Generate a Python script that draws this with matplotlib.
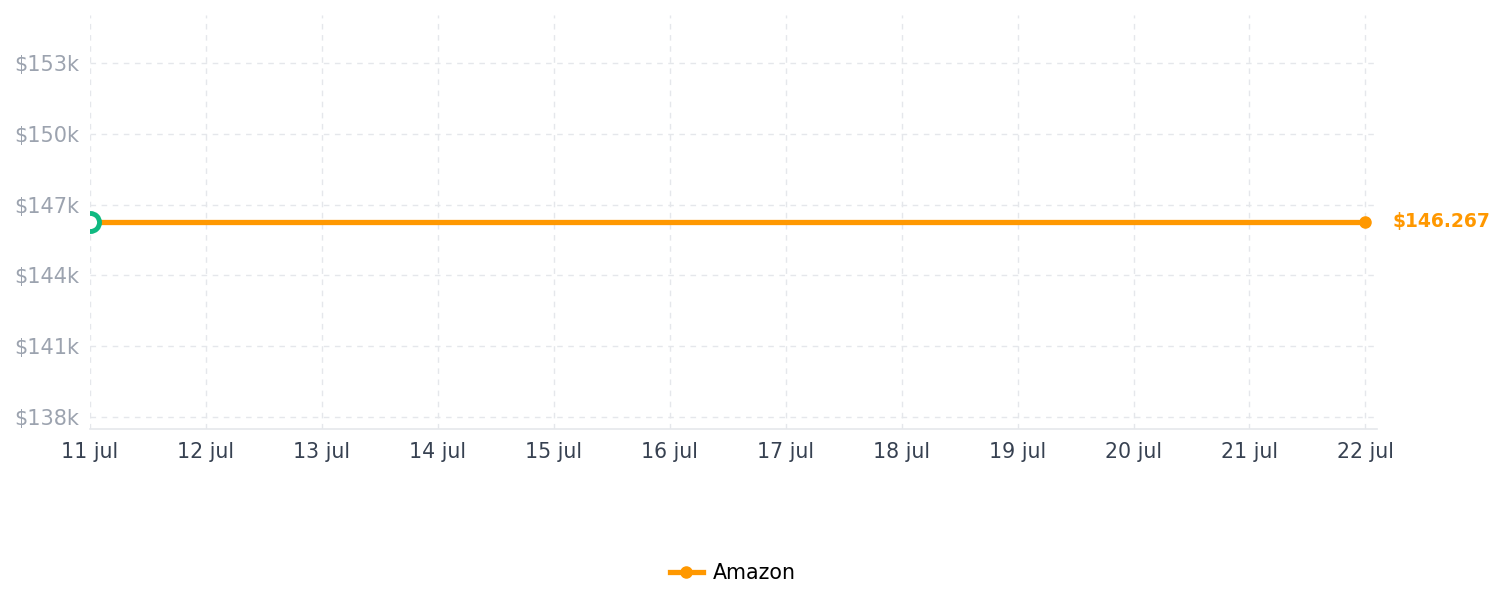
import matplotlib
matplotlib.use("Agg")
import matplotlib.pyplot as plt
from matplotlib.ticker import FixedLocator, FuncFormatter
from matplotlib.lines import Line2D

days = [11, 12, 13, 14, 15, 16, 17, 18, 19, 20, 21, 22]
day_labels = [f"{d} jul" for d in days]
amazon = [146267] * len(days)
y_ticks = [138000, 141000, 144000, 147000, 150000, 153000]
series_name = "Amazon"
last_label = "$146.267"

orange = "#ff9800"
green = "#10b981"

fig = plt.figure(figsize=(15.04, 6.07), dpi=100)
ax = fig.add_axes([90/1504, 1-429/607, (1377-90)/1504, (429-15)/607])

ax.plot(days, amazon, color=orange, lw=3.8, label=series_name,
        marker="o", markersize=8, markevery=[len(days)-1], zorder=3)
ax.plot([days[0]], [amazon[0]], marker="o", markersize=13, markerfacecolor="white",
        markeredgecolor=green, markeredgewidth=3.5, linestyle="none", zorder=4)

ax.annotate(last_label, xy=(days[-1], amazon[-1]), xytext=(19.5, 0), textcoords="offset points",
            color=orange, fontsize=13.5, fontweight="bold", va="center", ha="left",
            annotation_clip=False)

ax.set_xlim(11, 22.1)
ax.set_ylim(137490, 155030)
ax.xaxis.set_major_locator(FixedLocator(days))
ax.set_xticklabels(day_labels)
ax.yaxis.set_major_locator(FixedLocator(y_ticks))
ax.yaxis.set_major_formatter(FuncFormatter(lambda v, p: f"${v/1000:.0f}k"))

ax.grid(True, color="#e5e7eb", linestyle=(0, (4, 4)), linewidth=1)
ax.set_axisbelow(True)
for s in ["top", "right", "left"]:
    ax.spines[s].set_visible(False)
ax.spines["bottom"].set_color("#e5e7eb")
ax.spines["bottom"].set_linewidth(1.2)
ax.tick_params(axis="both", length=0)
ax.tick_params(axis="x", colors="#374151", labelsize=14.8, pad=9)
ax.tick_params(axis="y", colors="#9ca3af", labelsize=15, pad=8)

handle = Line2D([], [], color=orange, lw=3.8, marker="o", markersize=8)
leg = fig.legend(handles=[handle], labels=[series_name], loc="center",
                 bbox_to_anchor=(733/1504, 1-573/607), frameon=False, fontsize=14.8,
                 handlelength=1.6, handletextpad=0.5, numpoints=1)

fig.savefig("out.png", dpi=100, facecolor="white")
